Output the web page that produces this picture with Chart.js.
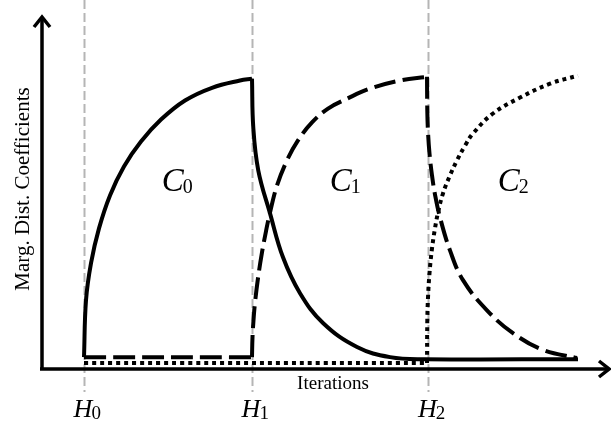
<!DOCTYPE html>
<html>
<head>
<meta charset="utf-8">
<script src="https://cdn.jsdelivr.net/npm/chart.js@4.4.1/dist/chart.umd.min.js"></script>
<style>
  html, body { margin: 0; padding: 0; background: #fff; }
  #wrap { width: 611px; height: 427px; }
</style>
</head>
<body>
<div id="wrap"><canvas id="chart" width="611" height="427"></canvas></div>
<script>
// iteration positions of the hand-over points
const hLabels = ['0', '1', '2'];
const hIters = [10, 50, 92];

// marginal distribution coefficient for each component (x = iteration, y = value)
const c0X = [10, 10.48, 11.67, 13.57, 16.19, 19.52, 23.57, 28.33, 34.05, 40.48, 47.14, 50,
             50.31, 51.5, 54.29, 57.38, 61.43, 66.9, 75, 82.86, 91.19, 127.62];
const c0Y = [0.041, 0.238, 0.366, 0.486, 0.6, 0.7, 0.786, 0.862, 0.928, 0.972, 0.997, 1.003,
             0.834, 0.686, 0.538, 0.386, 0.262, 0.159, 0.076, 0.041, 0.034, 0.034];
const c0Corners = [11];

const c1X = [10, 50, 50.12, 50.36, 50.71, 51.43, 52.38, 53.33, 54.29, 55.95, 58.33, 60.95, 64.29,
             68.1, 72.62, 78.1, 85.24, 91.67,
             91.74, 91.9, 92.26, 92.86, 93.57, 94.76, 97.14, 100.24, 105.95, 112.14, 119.29, 127.38];
const c1Y = [0.041, 0.041, 0.11, 0.169, 0.228, 0.314, 0.403, 0.476, 0.541, 0.634, 0.721, 0.79, 0.852,
             0.9, 0.934, 0.969, 0.997, 1.01,
             0.89, 0.821, 0.745, 0.669, 0.603, 0.524, 0.41, 0.307, 0.203, 0.124, 0.066, 0.038];
const c1Corners = [1, 17];

const c2X = [10, 91.67, 91.74, 91.9, 92.26, 92.86, 93.57, 94.29, 95.48, 97.14, 98.81, 100.71,
             102.62, 107.38, 113.81, 120.95, 127.62];
const c2Y = [0.021, 0.021, 0.169, 0.245, 0.331, 0.417, 0.486, 0.541, 0.607, 0.669, 0.721, 0.772,
             0.814, 0.883, 0.938, 0.986, 1.014];
const c2Corners = [1];

const curveLabels = [
  { name: '0', x: 29, y: 0.62 },
  { name: '1', x: 69, y: 0.62 },
  { name: '2', x: 109, y: 0.62 }
];

const SERIF = "'Liberation Serif', 'Times New Roman', serif";

// split a curve at its sharp corners so the spline only smooths the pieces in between
function pieces(label, xs, ys, corners, dash) {
  const cuts = [0, ...corners, xs.length - 1];
  const out = [];
  for (let i = 0; i < cuts.length - 1; i++) {
    const data = [];
    for (let k = cuts[i]; k <= cuts[i + 1]; k++) data.push({ x: xs[k], y: ys[k] });
    out.push({
      label: label,
      data: data,
      borderColor: '#000',
      borderWidth: 4,
      borderDash: dash,
      pointRadius: 0,
      fill: false,
      tension: 0.4,
      borderCapStyle: 'butt',
      borderJoinStyle: 'miter'
    });
  }
  return out;
}

// draws the gray guide lines, the arrow axes and all the annotations
const schematicPlugin = {
  id: 'schematic',
  beforeDatasetsDraw(chart) {
    const { ctx } = chart;
    const xs = chart.scales.x;
    ctx.save();
    ctx.strokeStyle = '#b5b5b5';
    ctx.lineWidth = 2;
    ctx.setLineDash([9, 4]);
    hIters.forEach(h => {
      const px = Math.round(xs.getPixelForValue(h)) + 0.5;
      ctx.beginPath();
      ctx.moveTo(px, 0);
      ctx.lineTo(px, chart.chartArea.bottom + 23);
      ctx.stroke();
    });
    ctx.restore();
  },
  afterDraw(chart) {
    const { ctx, chartArea } = chart;
    const xs = chart.scales.x;
    const ys = chart.scales.y;
    const left = chartArea.left, bottom = chartArea.bottom;
    const top = chartArea.top, right = chartArea.right;

    ctx.save();
    // axes with open arrow heads
    ctx.strokeStyle = '#000';
    ctx.lineWidth = 3.5;
    ctx.lineCap = 'butt';
    ctx.beginPath();
    ctx.moveTo(left, bottom);
    ctx.lineTo(left, top + 1);
    ctx.moveTo(left - 2, bottom);
    ctx.lineTo(right, bottom);
    ctx.stroke();
    ctx.lineJoin = 'miter';
    ctx.beginPath();
    ctx.moveTo(left - 8, top + 11);
    ctx.lineTo(left, top + 1);
    ctx.lineTo(left + 8, top + 11);
    ctx.moveTo(right - 10, bottom - 8);
    ctx.lineTo(right, bottom);
    ctx.lineTo(right - 10, bottom + 8);
    ctx.stroke();

    ctx.fillStyle = '#000';
    ctx.textBaseline = 'alphabetic';

    // H_k labels under the axis
    hIters.forEach((h, i) => {
      const px = xs.getPixelForValue(h);
      ctx.font = 'italic 26px ' + SERIF;
      ctx.textAlign = 'center';
      ctx.fillText('H', px - 1, bottom + 48);
      const w = ctx.measureText('H').width;
      ctx.font = '19px ' + SERIF;
      ctx.textAlign = 'left';
      ctx.fillText(hLabels[i], px - 1 + w / 2 - 1, bottom + 50);
    });

    // C_k labels inside the curves
    curveLabels.forEach(c => {
      const px = xs.getPixelForValue(c.x);
      const py = ys.getPixelForValue(c.y);
      ctx.font = 'italic 33px ' + SERIF;
      ctx.textAlign = 'left';
      ctx.fillText('C', px - 2, py + 1);
      const w = ctx.measureText('C').width;
      ctx.font = '20px ' + SERIF;
      ctx.fillText(c.name, px - 2 + w - 1, py + 3);
    });

    // axis titles
    ctx.font = '19px ' + SERIF;
    ctx.textAlign = 'center';
    ctx.fillText('Iterations', 333, bottom + 20);

    ctx.font = '21px ' + SERIF;
    ctx.translate(29, 189);
    ctx.rotate(-Math.PI / 2);
    ctx.fillText('Marg. Dist. Coefficients', 0, 0);
    ctx.restore();
  }
};

new Chart(document.getElementById('chart'), {
  type: 'line',
  data: {
    datasets: [
      ...pieces('C0', c0X, c0Y, c0Corners, []),
      ...pieces('C1', c1X, c1Y, c1Corners, [22, 7]),
      ...pieces('C2', c2X, c2Y, c2Corners, [4, 4])
    ]
  },
  options: {
    responsive: false,
    animation: false,
    layout: { padding: { left: 42, right: 2, top: 16, bottom: 58 } },
    plugins: {
      legend: { display: false },
      tooltip: { enabled: false }
    },
    scales: {
      x: { type: 'linear', min: 0, max: 135, display: false },
      y: { type: 'linear', min: 0, max: 1.22, display: false }
    }
  },
  plugins: [schematicPlugin]
});
</script>
</body>
</html>
